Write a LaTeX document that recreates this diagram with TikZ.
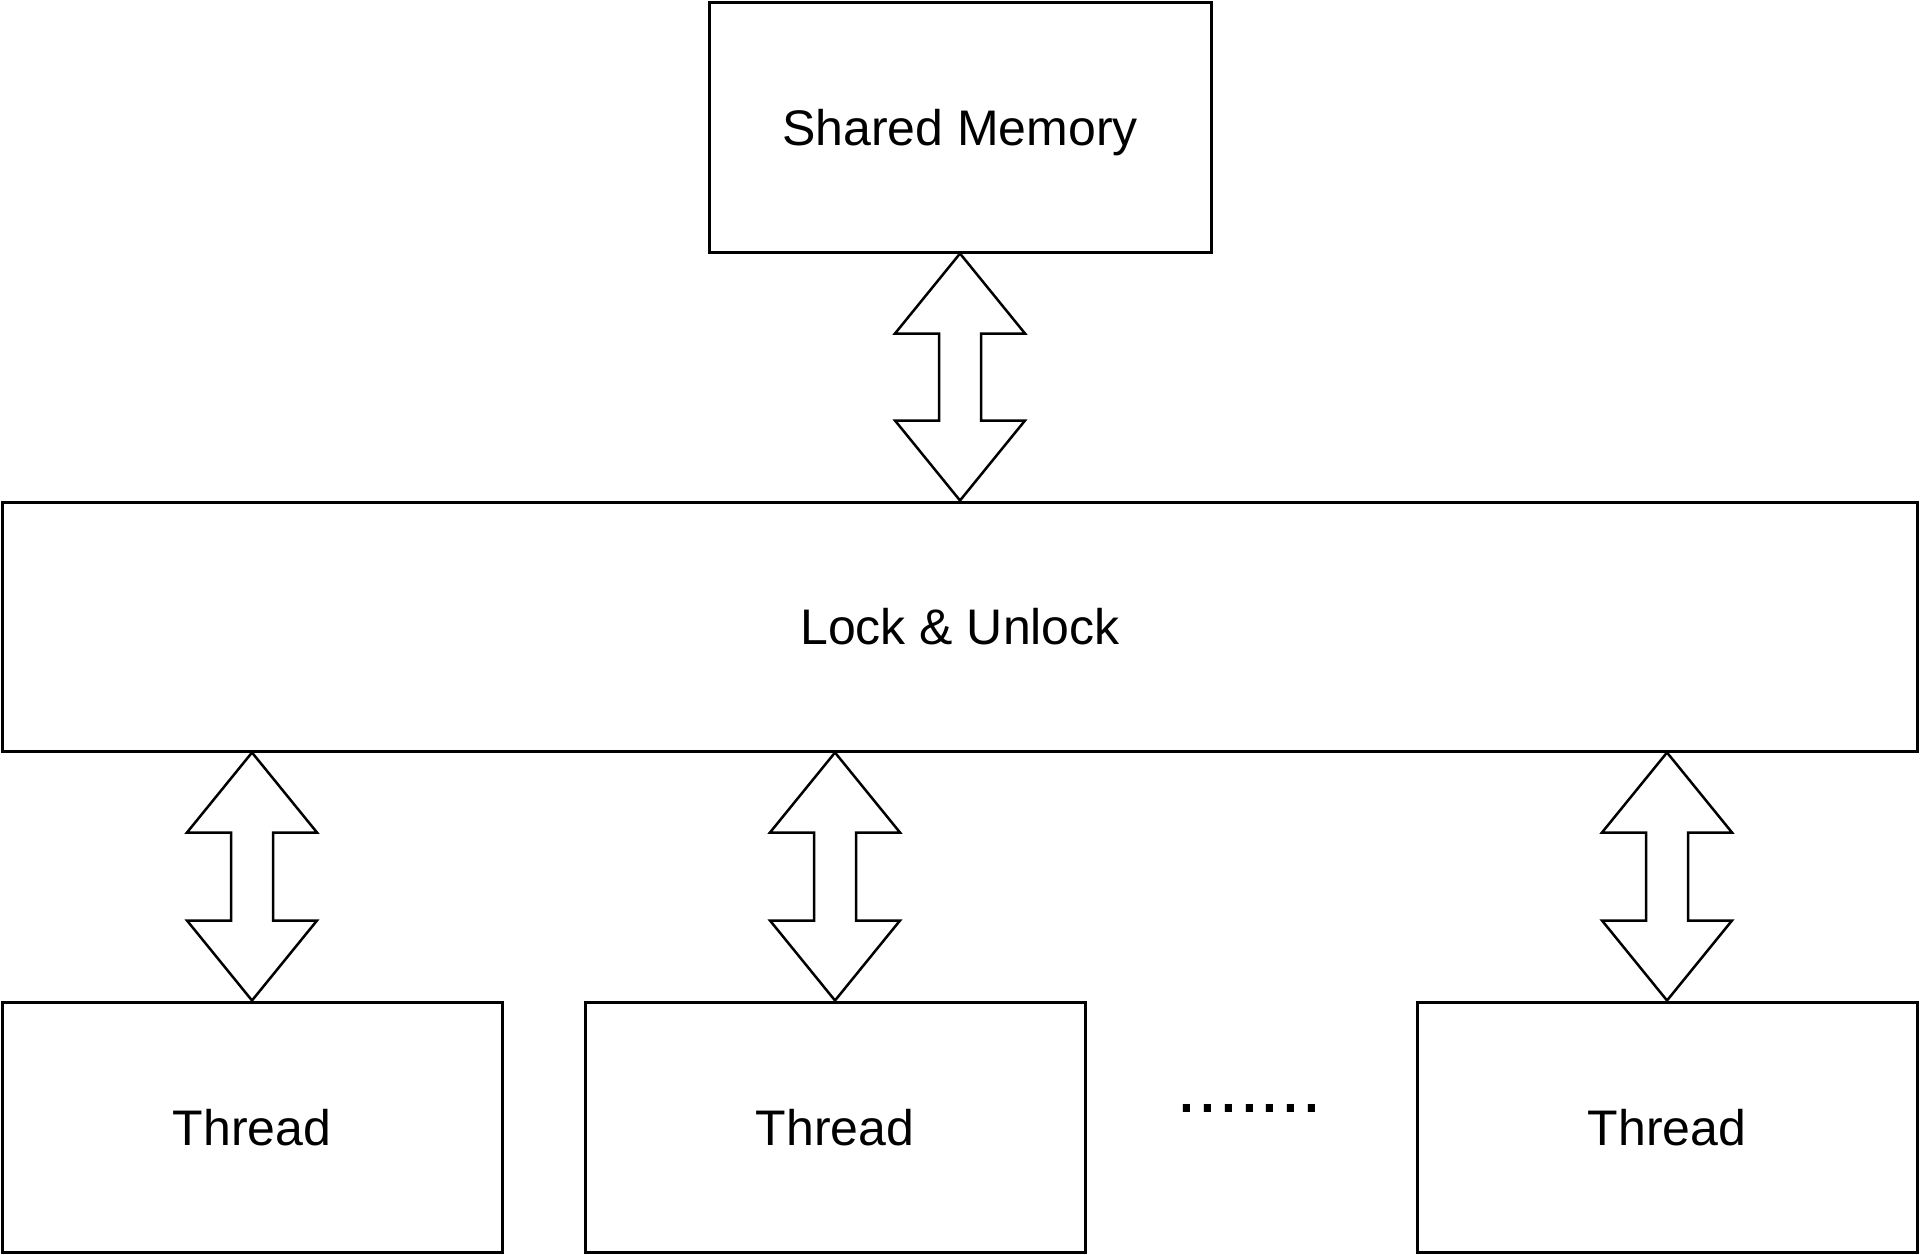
\documentclass[tikz,border=0pt]{standalone}
\usepackage{fontspec}
\setmainfont{Liberation Sans}
\usetikzlibrary{calc}
\tikzset{
  box/.style={draw=black,line width=3pt,fill=white,minimum width=500pt,minimum height=250pt,
    inner sep=0pt,font=\fontsize{50}{60}\selectfont,text height=36pt,text depth=0pt},
  blockarrow/.style={draw=black,line width=2.5pt,fill=white,line join=miter}
}
% hollow two-headed arrow between two points
\newcommand\dualarrow[2]{%
  \draw[blockarrow] (#1) -- ($(#1)+(65,80)$) -- ($(#1)+(21,80)$) -- ($(#2)+(21,-80)$)
    -- ($(#2)+(65,-80)$) -- (#2) -- ($(#2)+(-65,-80)$) -- ($(#2)+(-21,-80)$)
    -- ($(#1)+(-21,80)$) -- ($(#1)+(-65,80)$) -- cycle;}

\begin{document}
\begin{tikzpicture}[x=1pt,y=-1pt]
  \useasboundingbox (0,0) rectangle (1920,1254);
  \node[box,minimum width=502pt] (mem) at (960,127) {Shared Memory};
  \node[box,minimum width=1915pt,minimum height=249pt] (lock) at (960,626.5) {Lock \& Unlock};
  \dualarrow{mem.south}{lock.north}
  \foreach \x/\n in {252/t1,835/t2,1667/t3} {
    \node[box] (\n) at (\x,1127) {Thread};
    \coordinate (\n-up) at (lock.south -| \n.north);
    \dualarrow{\n-up}{\n.north}
  }
  \node[font=\fontsize{75}{75}\selectfont,anchor=base,inner sep=0pt] (dots) at (1249.5,1112) {.......};
\end{tikzpicture}
\end{document}
